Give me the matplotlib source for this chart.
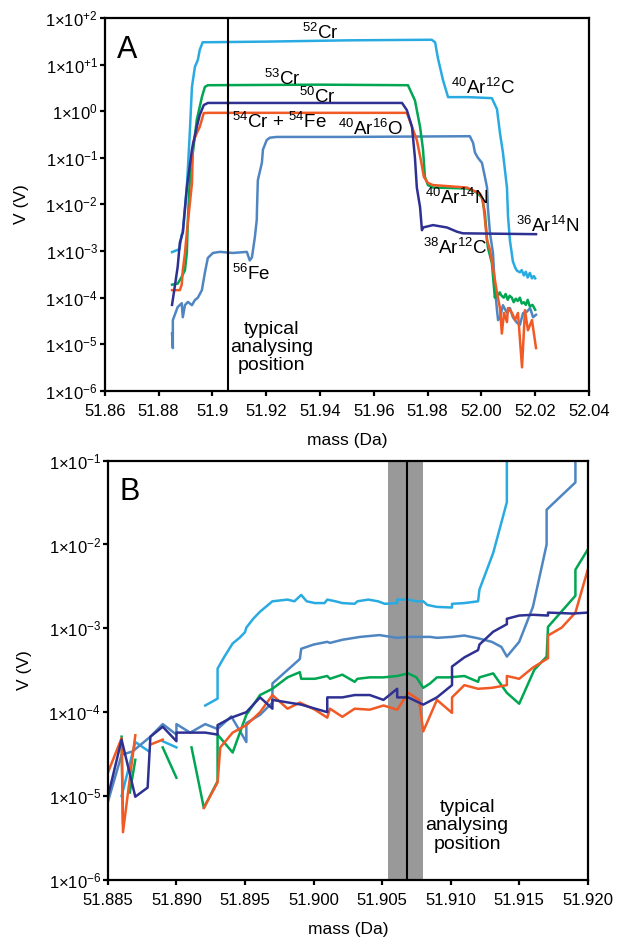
import numpy as np
import matplotlib
matplotlib.use('Agg')
import matplotlib.pyplot as plt
from matplotlib.ticker import NullLocator

plt.rcParams['font.family'] = ['Liberation Sans', 'DejaVu Sans']
plt.rcParams['mathtext.fontset'] = 'custom'
plt.rcParams['mathtext.rm'] = 'Liberation Sans'
plt.rcParams['mathtext.it'] = 'Liberation Sans:italic'
plt.rcParams['mathtext.default'] = 'regular'

nan = np.nan

# colours
c52 = '#29abe2'
c53 = '#00a651'
c50 = '#2e3192'
c54 = '#f15a24'
c56 = '#4f86c2'

# ---------------- panel A: full peak scan ----------------
a52_m = [51.885, 51.8878, 51.8886, 51.8890, 51.8905, 51.8916, 51.8924, 51.8935, 51.8946, 51.8953,
         51.8964, 51.92, 51.95, 51.9815, 51.9828, 51.9838, 51.9857, 51.9876, 51.995, 52.0039,
         52.0058, 52.0069, 52.0080, 52.0095, 52.0099, 52.0106, 52.0117, 52.0125, 52.0132, 52.0143,
         52.0150, 52.0158, 52.0165, 52.0172, 52.0180, 52.0188, 52.0195, 52.0200]
a52_v = [9.5e-4, 1.1e-3, 2.3e-3, 2.5e-3, 0.023, 0.34, 3.3, 8.9, 12.6, 20.6,
         30, 31, 33, 34, 30, 14, 4.7, 2.0, 2.0, 1.9,
         1.1, 0.34, 0.13, 0.023, 0.0055, 0.0017, 6e-4, 4.5e-4, 3.8e-4, 3.5e-4,
         3.9e-4, 3.0e-4, 3.6e-4, 2.7e-4, 3.4e-4, 2.6e-4, 2.9e-4, 2.6e-4]

a53_m = [51.885, 51.8871, 51.8886, 51.8898, 51.8905, 51.8909, 51.8916, 51.8924, 51.8942, 51.8961,
         51.8972, 51.8983, 51.94, 51.9727, 51.9753, 51.9772, 51.9783, 51.9790, 51.9801, 51.9820,
         51.9946, 51.9983, 52.0002, 52.0013, 52.0021, 52.0024, 52.0039, 52.0050, 52.0055, 52.0060,
         52.0068, 52.0075, 52.0083, 52.0090, 52.0098, 52.0105, 52.0113, 52.0120, 52.0128, 52.0135,
         52.0143, 52.0150, 52.0158, 52.0165, 52.0172, 52.0180, 52.0190, 52.0200]
a53_v = [1.9e-4, 2.0e-4, 2.8e-4, 3.9e-4, 9.1e-4, 4.7e-3, 0.033, 0.089, 0.65, 2.0,
         3.3, 3.6, 3.7, 3.6, 1.7, 0.46, 0.15, 0.039, 0.026, 0.023,
         0.022, 0.018, 0.014, 6.6e-3, 1.7e-3, 1.2e-3, 5.5e-4, 1.0e-4, 1.25e-4, 1.05e-4,
         1.3e-4, 1.1e-4, 1.0e-4, 1.2e-4, 9e-5, 1.1e-4, 1.0e-4, 8e-5, 9.5e-5, 8.5e-5,
         1.0e-4, 7.5e-5, 8e-5, 7e-5, 9e-5, 6.5e-5, 7e-5, 5.5e-5]

a50_m = [51.885, 51.886, 51.8871, 51.8879, 51.8890, 51.8905, 51.8924, 51.8942, 51.8953, 51.8968,
         51.8983, 51.9705, 51.9723, 51.9742, 51.9753, 51.9760, 51.9772, 51.9779, 51.9783, 51.9820,
         51.9872, 51.9909, 51.9931, 52.0203]
a50_v = [7e-5, 1.7e-4, 4.6e-4, 1.5e-3, 2.5e-3, 0.023, 0.15, 0.46, 0.83, 1.35,
         1.5, 1.5, 1.05, 0.46, 0.10, 0.023, 8.7e-3, 2.8e-3, 3.2e-3, 3.6e-3,
         3.2e-3, 2.6e-3, 2.4e-3, 2.3e-3]

a54_m = [51.885, 51.8879, 51.8886, 51.8890, 51.8898, 51.8905, 51.8924, 51.8928, 51.8942, 51.8953,
         51.8968, 51.8990, 51.9723, 51.9742, 51.9760, 51.9775, 51.9786, 51.9801, 51.9820, 51.9946,
         51.9995, 52.0006, 52.0021, 52.0032, 52.0043, 52.0058, 52.0069, 52.0076, 52.0084, 52.0095,
         52.0099, 52.0114, 52.0125, 52.0136, 52.0151, 52.0162, 52.0173, 52.0188, 52.0203]
a54_v = [1.45e-4, 1.45e-4, 1.9e-4, 3.9e-4, 9e-4, 2.5e-3, 0.028, 0.21, 0.34, 0.46,
         0.91, 0.92, 0.92, 0.46, 0.24, 0.089, 0.039, 0.029, 0.026, 0.023,
         0.017, 0.012, 1.7e-3, 1.05e-3, 4.4e-4, 1.26e-4, 6e-5, 1.7e-5, 4.7e-5, 3e-5,
         6e-5, 4.7e-5, 3.3e-5, 4.7e-5, 3.2e-6, 5.4e-5, 2e-5, 3.3e-5, 8.3e-6]

a56_m = [51.885, 51.8853, 51.8853, 51.8871, 51.8886, 51.8890, 51.8898, 51.8909, 51.8924, 51.8935,
         51.8946, 51.8961, 51.8972, 51.8983, 51.9002, 51.9028, 51.9076, 51.9128, 51.9139, 51.9147,
         51.9158, 51.9165, 51.9166, 51.9169, 51.9184, 51.9188, 51.9202, 51.9214, 51.9240, 51.95,
         51.9957, 51.9969, 51.9976, 51.9987, 52.0002, 52.0013, 52.0021, 52.0024, 52.0032, 52.0043,
         52.0050, 52.0058, 52.0062, 52.0069, 52.0080, 52.0095, 52.0106, 52.0117, 52.0132, 52.0143,
         52.0155, 52.0169, 52.0181, 52.0192, 52.0203]
a56_v = [1.7e-5, 8.3e-6, 3.3e-5, 6.3e-5, 7.6e-5, 3.8e-5, 6.9e-5, 8.1e-5, 6.9e-5, 8.9e-5,
         1.0e-4, 1.45e-4, 3.4e-4, 7.1e-4, 9.1e-4, 9.6e-4, 9.1e-4, 9.6e-4, 6.3e-4, 7.3e-4,
         2e-3, 4.7e-3, 8.7e-3, 0.033, 0.078, 0.15, 0.24, 0.27, 0.28, 0.28,
         0.29, 0.21, 0.13, 0.10, 0.078, 0.039, 0.023, 8.7e-3, 2.4e-3, 9.1e-4,
         1.7e-4, 5.4e-5, 3.3e-5, 3.7e-5, 6.9e-5, 4.7e-5, 6e-5, 3.8e-5, 2.9e-5, 2.6e-5,
         4.7e-5, 5e-5, 6e-5, 3.8e-5, 4.3e-5]

# ---------------- panel B: low-mass side, zoomed ----------------
b52_m = [51.8860, 51.8870, 51.8880, nan, 51.8890, 51.8900, nan,
         51.8921, 51.8930, 51.8930, 51.8935, 51.8941, 51.8946, 51.8950, 51.8951, 51.8956, 51.8961,
         51.8970, 51.8981, 51.8986, 51.8991, 51.8995, 51.9001, 51.9008, 51.9010, 51.9016, 51.9021,
         51.9030, 51.9032, 51.9040, 51.9047, 51.9052, 51.9061, 51.9061, 51.9069, 51.9075, 51.9080,
         51.9083, 51.9090, 51.9101, 51.9101, 51.9110, 51.9120, 51.9121, 51.9131, 51.9138, 51.9141,
         51.9141]
b52_v = [1.0e-5, 4.4e-5, 3.4e-5, nan, 4.5e-5, 3.8e-5, nan,
         1.2e-4, 1.45e-4, 3.3e-4, 4.6e-4, 6.6e-4, 7.7e-4, 9e-4, 1.02e-3, 1.3e-3, 1.58e-3,
         2.1e-3, 2.2e-3, 2.1e-3, 2.5e-3, 2.1e-3, 2.0e-3, 2.0e-3, 2.2e-3, 2.1e-3, 2.0e-3,
         1.96e-3, 2.1e-3, 2.2e-3, 2.1e-3, 1.96e-3, 2.0e-3, 2.2e-3, 2.2e-3, 2.1e-3, 2.1e-3,
         1.9e-3, 1.8e-3, 1.77e-3, 1.96e-3, 2.0e-3, 2.1e-3, 2.9e-3, 7.9e-3, 0.021, 0.032,
         0.2]

b53_m = [51.8860, 51.8861, nan, 51.8866, 51.8870, nan, 51.8890, 51.8900, nan,
         51.8911, 51.8920, 51.8930, 51.8930, 51.8941, 51.8951, 51.8961, 51.8970, 51.8981, 51.8990,
         51.8991, 51.9001, 51.9010, 51.9012, 51.9021, 51.9030, 51.9032, 51.9041, 51.9051, 51.9061,
         51.9069, 51.9075, 51.9080, 51.9085, 51.9090, 51.9099, 51.9110, 51.9120, 51.9121, 51.9131,
         51.9141, 51.9150, 51.9161, 51.9170, 51.9171, 51.9191, 51.9191, 51.9200]
b53_v = [5.1e-5, 4.8e-6, nan, 1.1e-5, 2.7e-5, nan, 3.8e-5, 1.65e-5, nan,
         3.8e-5, 7.2e-6, 1.5e-5, 5.4e-5, 3.3e-5, 9.3e-5, 1.6e-4, 1.9e-4, 2.6e-4, 3.0e-4,
         2.5e-4, 2.5e-4, 2.7e-4, 2.5e-4, 2.8e-4, 2.3e-4, 2.5e-4, 2.6e-4, 2.6e-4, 2.7e-4,
         2.9e-4, 2.6e-4, 1.95e-4, 2.2e-4, 2.6e-4, 2.6e-4, 2.7e-4, 2.3e-4, 2.6e-4, 2.9e-4,
         1.7e-4, 1.26e-4, 3.2e-4, 4.6e-4, 1.04e-3, 2.45e-3, 5.0e-3, 8.7e-3]

b50_m = [51.8850, 51.8860, 51.8870, 51.8879, 51.8881, 51.8890, 51.8900, 51.8900, 51.8910, 51.8921,
         51.8930, 51.8930, 51.8940, 51.8951, 51.8961, 51.8970, 51.8970, 51.8991, 51.9010, 51.9010,
         51.9021, 51.9030, 51.9041, 51.9051, 51.9061, 51.9061, 51.9069, 51.9080, 51.9090, 51.9101,
         51.9101, 51.9110, 51.9120, 51.9121, 51.9131, 51.9141, 51.9141, 51.9150, 51.9160, 51.9171,
         51.9171, 51.9189, 51.9200]
b50_v = [9.8e-6, 4.7e-5, 9.8e-6, 1.26e-5, 5.1e-5, 6.7e-5, 4.5e-5, 5.7e-5, 5.7e-5, 5.7e-5,
         5.4e-5, 7.0e-5, 8.6e-5, 1.0e-4, 1.5e-4, 1.1e-4, 1.4e-4, 1.23e-4, 1.0e-4, 1.5e-4,
         1.5e-4, 1.6e-4, 1.6e-4, 1.4e-4, 1.9e-4, 1.5e-4, 1.5e-4, 1.23e-4, 1.5e-4, 2.1e-4,
         3.5e-4, 4.5e-4, 5.5e-4, 6.4e-4, 9.1e-4, 1.12e-3, 1.3e-3, 1.42e-3, 1.45e-3, 1.42e-3,
         1.54e-3, 1.5e-3, 1.54e-3]

b54_m = [51.8850, 51.8860, 51.8861, 51.8870, nan, 51.8881, 51.8890, nan,
         51.8920, 51.8930, 51.8932, 51.8941, 51.8951, 51.8961, 51.8970, 51.8981, 51.8990, 51.9001,
         51.9010, 51.9012, 51.9021, 51.9030, 51.9041, 51.9051, 51.9061, 51.9069, 51.9077, 51.9080,
         51.9090, 51.9101, 51.9101, 51.9110, 51.9120, 51.9130, 51.9141, 51.9141, 51.9150, 51.9160,
         51.9171, 51.9171, 51.9181, 51.9191, 51.9200]
b54_v = [1.9e-5, 4.9e-5, 3.7e-6, 5.3e-5, nan, 4.1e-5, 4.7e-5, nan,
         7.2e-6, 1.45e-5, 3.8e-5, 5.7e-5, 7.0e-5, 1.0e-4, 1.6e-4, 1.1e-4, 1.3e-4, 1.07e-4,
         8.6e-5, 1.1e-4, 8.8e-5, 1.1e-4, 1.07e-4, 1.2e-4, 1.07e-4, 1.7e-4, 1.4e-4, 5.9e-5,
         1.4e-4, 9.8e-5, 1.5e-4, 2.1e-4, 1.9e-4, 1.95e-4, 2.1e-4, 2.7e-4, 2.5e-4, 3.4e-4,
         4.4e-4, 8.2e-4, 1.02e-3, 1.54e-3, 5.0e-3]

b56_m = [51.8850, 51.8860, 51.8868, 51.8881, 51.8890, 51.8900, 51.8900, 51.8910, 51.8921, 51.8930,
         51.8940, 51.8951, 51.8951, 51.8961, 51.8970, 51.8970, 51.8990, 51.8991, 51.9000, 51.9010,
         51.9012, 51.9021, 51.9034, 51.9048, 51.9061, 51.9070, 51.9085, 51.9090, 51.9101, 51.9110,
         51.9120, 51.9130, 51.9137, 51.9141, 51.9150, 51.9160, 51.9170, 51.9170, 51.9191, 51.9191]
b56_v = [8.5e-6, 3.1e-5, 3.4e-5, 5.1e-5, 7.2e-5, 5.4e-5, 7.2e-5, 5.7e-5, 7.2e-5, 6.3e-5,
         8.9e-5, 4.4e-5, 7.4e-5, 9.3e-5, 1.3e-4, 2.2e-4, 4.3e-4, 5.7e-4, 6.4e-4, 6.9e-4,
         6.7e-4, 7.3e-4, 7.9e-4, 8.3e-4, 7.7e-4, 7.9e-4, 7.9e-4, 7.7e-4, 7.9e-4, 8.2e-4,
         7.6e-4, 6.9e-4, 6.0e-4, 4.6e-4, 6.9e-4, 1.8e-3, 0.01, 0.026, 0.055, 0.2]

ylabels_a = ['1×10$^{+2}$', '1×10$^{+1}$', '1×10$^{0}$', '1×10$^{-1}$', '1×10$^{-2}$',
             '1×10$^{-3}$', '1×10$^{-4}$', '1×10$^{-5}$', '1×10$^{-6}$']
ylabels_b = ['1×10$^{-1}$', '1×10$^{-2}$', '1×10$^{-3}$', '1×10$^{-4}$', '1×10$^{-5}$', '1×10$^{-6}$']
xlabels_a = ['51.86', '51.88', '51.9', '51.92', '51.94', '51.96', '51.98', '52.00', '52.02', '52.04']
xlabels_b = ['51.885', '51.890', '51.895', '51.900', '51.905', '51.910', '51.915', '51.920']

fig = plt.figure(figsize=(6.2, 9.42), dpi=100)
ax1 = fig.add_axes([0.169, 0.585, 0.781, 0.396])
ax2 = fig.add_axes([0.174, 0.066, 0.774, 0.445])

lw = 1.8
order = [(c52, 'a52', 'b52'), (c56, 'a56', 'b56'), (c53, 'a53', 'b53'), (c54, 'a54', 'b54'), (c50, 'a50', 'b50')]
g = globals()
for col, ka, kb in order:
    ax1.plot(g[ka + '_m'], g[ka + '_v'], color=col, lw=lw)
    ax2.plot(g[kb + '_m'], g[kb + '_v'], color=col, lw=lw)

ax1.axvline(51.9057, color='black', lw=1.5)
ax2.axvspan(51.9054, 51.9080, color='#999999', lw=0, zorder=0)
ax2.axvline(51.9068, color='black', lw=1.5)

for ax in (ax1, ax2):
    ax.set_yscale('log')
    ax.yaxis.set_minor_locator(NullLocator())
    for s in ax.spines.values():
        s.set_linewidth(1.6)
    ax.tick_params(direction='out', length=3.5, width=1.6, labelsize=12, top=False, right=False)
    ax.tick_params(axis='x', pad=6)
    ax.tick_params(axis='y', pad=1.5)
    ax.set_ylabel('V (V)', fontsize=12.5, labelpad=12)
    ax.set_xlabel('mass (Da)', fontsize=12.5, labelpad=10)

ax1.set_xlim(51.86, 52.04)
ax1.set_ylim(1e-6, 1e2)
ax1.set_xticks(np.linspace(51.86, 52.04, 10))
ax1.set_xticklabels(xlabels_a)
ax1.set_yticks([1e2, 1e1, 1e0, 1e-1, 1e-2, 1e-3, 1e-4, 1e-5, 1e-6])
ax1.set_yticklabels(ylabels_a)

ax2.set_xlim(51.885, 51.920)
ax2.set_ylim(1e-6, 1e-1)
ax2.set_xticks(np.linspace(51.885, 51.920, 8))
ax2.set_xticklabels(xlabels_b)
ax2.set_yticks([1e-1, 1e-2, 1e-3, 1e-4, 1e-5, 1e-6])
ax2.set_yticklabels(ylabels_b)

ax1.text(0.025, 0.955, 'A', transform=ax1.transAxes, fontsize=22, va='top')
ax2.text(0.025, 0.96, 'B', transform=ax2.transAxes, fontsize=22, va='top')

fs = 13.5
labels_a = [
    (51.9403, 48, '$^{52}$Cr'),
    (51.9262, 5.0, '$^{53}$Cr'),
    (51.9392, 2.0, '$^{50}$Cr'),
    (51.9250, 0.58, '$^{54}$Cr + $^{54}$Fe'),
    (51.9586, 0.41, '$^{40}$Ar$^{16}$O'),
    (52.0006, 3.1, '$^{40}$Ar$^{12}$C'),
    (51.9909, 0.0135, '$^{40}$Ar$^{14}$N'),
    (52.0248, 3.4e-3, '$^{36}$Ar$^{14}$N'),
    (51.9902, 1.15e-3, '$^{38}$Ar$^{12}$C'),
    (51.9143, 3.2e-4, '$^{56}$Fe'),
]
for x, y, s in labels_a:
    ax1.text(x, y, s, fontsize=fs, ha='center', va='center')

ax1.text(51.922, 8.5e-6, 'typical\nanalysing\nposition', fontsize=14, ha='center', va='center',
         linespacing=1.1)
ax2.text(51.9112, 4.4e-6, 'typical\nanalysing\nposition', fontsize=14, ha='center', va='center',
         linespacing=1.1)

fig.savefig('out.png', dpi=100)
